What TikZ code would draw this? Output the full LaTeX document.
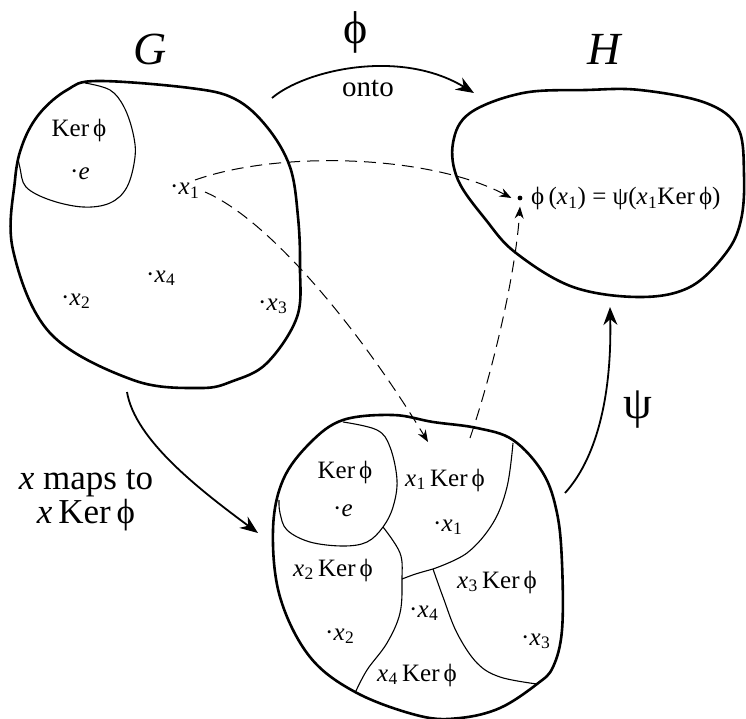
\documentclass[tikz,border=0pt]{standalone}
\usepackage{fontspec}
\setmainfont{Liberation Serif}
\usetikzlibrary{arrows.meta}

\newcommand{\kerphi}{Ker\,ϕ}
\newcommand{\xsub}[1]{\textit{x}\kern0.5pt\textsubscript{#1}}

\begin{document}
\begin{tikzpicture}[x=1pt,y=-1pt,
  blob/.style={line width=2.6pt},
  cell/.style={line width=1.1pt},
  map/.style={line width=1.8pt,-{Stealth[length=18pt,width=14pt]}},
  elt/.style={line width=1pt,dash pattern=on 12pt off 7pt,-{Stealth[length=12pt,width=9pt]}},
  lbl/.style={font=\fontsize{25}{28}\selectfont,inner sep=0pt},
  pt/.style={lbl,anchor=base west},
  big/.style={font=\fontsize{46}{50}\selectfont,inner sep=0pt}]
  \useasboundingbox (0,0) rectangle (746,719);

  % group G
  \draw[blob] plot[smooth cycle,tension=0.6] coordinates {(97,81) (190,88) (235,99) (267,127) (290,167) (298,217) (300,267) (297,317) (267,363) (233,381) (200,388) (133,380) (50,333) (13,250) (15,180) (23,143) (40,113) (67,90)};
  \draw[cell] plot[smooth,tension=0.6] coordinates {(85,83) (110,90) (124,107) (133,133) (135,157) (127,187) (110,203) (83,207) (50,200) (26,187) (20,168) (18,158)};
  \node[big] (G) at (150,49) {\textit{G}};
  \node[lbl] (gker) at (79,130) {\kerphi};
  \node[pt] (ge) at (70,180) {·\textit{e}};
  \node[pt] (gx1) at (170,195) {·\xsub{1}};
  \node[pt] (gx4) at (146,282) {·\xsub{4}};
  \node[pt] (gx2) at (61,305) {·\xsub{2}};
  \node[pt] (gx3) at (258,310) {·\xsub{3}};

  % group H
  \draw[blob] plot[smooth cycle,tension=0.6] coordinates {(586,90) (640,90) (706,103) (738,128) (744,175) (741,220) (726,253) (690,287) (640,297) (573,287) (516,253) (486,220) (458,180) (453,143) (470,113) (523,93)};
  \node[big] (H) at (605,49) {\textit{H}};
  \node[circle,fill,inner sep=1.7pt] (imgdot) at (520,198) {};
  \node[lbl,anchor=base west] (img) at (531,205) {ϕ\,(\xsub{1}) = ψ(\xsub{1}\kerphi)};

  % quotient G/Ker phi
  \draw[blob] plot[smooth cycle,tension=0.6] coordinates {(343,420) (393,415) (433,422) (477,428) (513,440) (543,473) (557,513) (562,563) (562,630) (553,667) (537,684) (500,708) (460,718) (420,716) (357,693) (310,657) (280,597) (273,530) (283,480) (310,443)};
  \coordinate (J1) at (402,579);
  \coordinate (J2) at (433,569);
  \draw[cell] plot[smooth,tension=0.6] coordinates {(343,422) (377,430) (390,447) (397,480) (393,507) (383,527) (367,542) (343,546) (310,542) (287,530) (280,513) (279,500)};
  \draw[cell] plot[smooth,tension=0.6] coordinates {(383,527) (400,553) (J1) (400,613) (387,643) (367,670) (355,693)};
  \draw[cell] (J1) .. controls (415,574) .. (J2);
  \draw[cell] plot[smooth,tension=0.6] coordinates {(J2) (467,553) (493,523) (507,487) (513,443)};
  \draw[cell] plot[smooth,tension=0.6] coordinates {(J2) (443,597) (457,633) (477,663) (500,677) (537,684)};
  \node[lbl] (qker) at (345,472) {\kerphi};
  \node[pt] (qe) at (333,516) {·\textit{e}};
  \node[lbl] (qk1) at (445,480) {\xsub{1}\,\kerphi};
  \node[pt] (qx1) at (433,531) {·\xsub{1}};
  \node[lbl] (qk2) at (333,570) {\xsub{2}\,\kerphi};
  \node[lbl] (qk3) at (497,582) {\xsub{3}\,\kerphi};
  \node[pt] (qx4) at (409,617) {·\xsub{4}};
  \node[pt] (qx2) at (325,640) {·\xsub{2}};
  \node[pt] (qx3) at (521,645) {·\xsub{3}};
  \node[lbl] (qk4) at (417,675) {\xsub{4}\,\kerphi};

  % maps
  \coordinate (phis) at (272,98);
  \coordinate (phie) at (474,93);
  \draw[map] (phis) .. controls (305,70) and (400,48) .. (phie);
  \node[big] (phi) at (356,32) {ϕ};
  \node[lbl,font=\fontsize{29}{32}\selectfont] (onto) at (368,88) {onto};

  \coordinate (nats) at (127,392);
  \coordinate (nate) at (258,533);
  \draw[map] (nats) .. controls (135,440) and (200,490) .. (nate);
  \node[align=center,inner sep=0pt,font=\fontsize{35}{34}\selectfont] (natlbl) at (86,500) {\textit{x} maps to\\\textit{x}\,\kerphi};

  \coordinate (psis) at (565,493);
  \coordinate (psie) at (610,307);
  \draw[map] (psis) .. controls (595,460) and (612,400) .. (psie);
  \node[big] (psi) at (638,410) {ψ};

  % x1 and its images
  \coordinate (gx1a) at (195,180);
  \coordinate (gx1b) at (205,192);
  \coordinate (qx1a) at (428,442);
  \coordinate (qx1b) at (470,438);
  \draw[elt] (gx1a) .. controls (280,150) and (430,155) .. ([xshift=-6pt]imgdot.west);
  \draw[elt] (gx1b) .. controls (270,220) and (360,330) .. (qx1a);
  \draw[elt] (qx1b) .. controls (490,380) and (515,280) .. ([yshift=-6pt]imgdot.south);
\end{tikzpicture}
\end{document}
